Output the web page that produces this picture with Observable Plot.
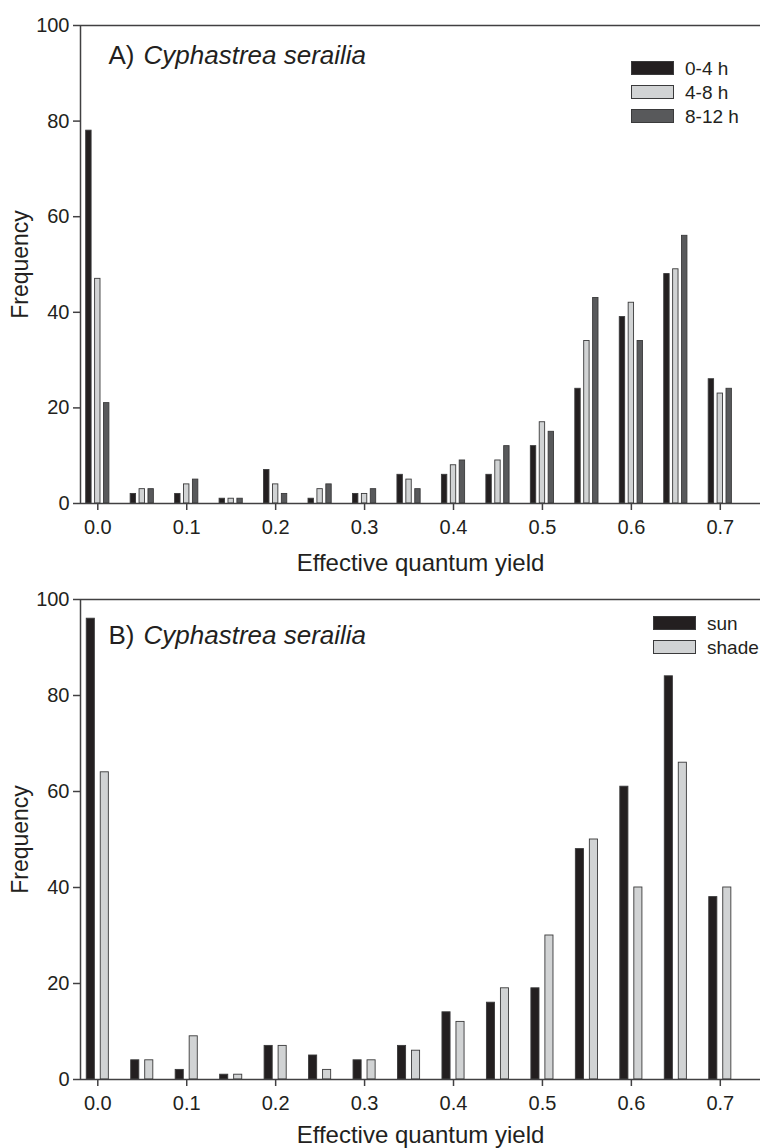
<!DOCTYPE html>
<html>
<head>
<meta charset="utf-8">
<script src="https://cdn.jsdelivr.net/npm/d3@7"></script>
<script src="https://cdn.jsdelivr.net/npm/@observablehq/plot@0.6"></script>
<style>
  html, body { margin: 0; padding: 0; background: #ffffff; }
  #chart { width: 760px; }
  #chart svg { display: block; }
</style>
</head>
<body>
<div id="chart"></div>
<script>
// ---------- data ----------
const bins = [0.00, 0.05, 0.10, 0.15, 0.20, 0.25, 0.30, 0.35, 0.40, 0.45, 0.50, 0.55, 0.60, 0.65, 0.70];
const xTicks = [0.0, 0.1, 0.2, 0.3, 0.4, 0.5, 0.6, 0.7];
const yTicks = [0, 20, 40, 60, 80, 100];

const seriesA = ["0-4 h", "4-8 h", "8-12 h"];
const a0to4  = [78, 2, 2, 1, 7, 1, 2, 6, 6, 6, 12, 24, 39, 48, 26];
const a4to8  = [47, 3, 4, 1, 4, 3, 2, 5, 8, 9, 17, 34, 42, 49, 23];
const a8to12 = [21, 3, 5, 1, 2, 4, 3, 3, 9, 12, 15, 43, 34, 56, 24];

const seriesB = ["sun", "shade"];
const bSun   = [96, 4, 2, 1, 7, 5, 4, 7, 14, 16, 19, 48, 61, 84, 38];
const bShade = [64, 4, 9, 1, 7, 2, 4, 6, 12, 19, 30, 50, 40, 66, 40];

const titleA = ["A)", "Cyphastrea serailia"];
const titleB = ["B)", "Cyphastrea serailia"];
const xLabel = "Effective quantum yield";
const yLabel = "Frequency";

// ---------- styling ----------
const FONT = "'Liberation Sans', Arial, Helvetica, sans-serif";
const TEXT = "#231f20";
const AXIS = "#414042";
const BLACK = "#231f20", LIGHT = "#d1d3d4", DARK = "#58595b";

const WIDTH = 760, LEFT = 80;
const X0 = -0.01945, X1 = 0.74521;           // x scale domain (frame edges)
const unitsPerPx = (X1 - X0) / (WIDTH - LEFT); // to convert bar layout offsets

function panel(o) {
  const n = o.series.length;
  const table = [];
  o.series.forEach((s, i) =>
    o.values[i].forEach((v, j) =>
      table.push({bin: bins[j], series: s, value: v, k: i - (n - 1) / 2})));

  const svg = Plot.plot({
    width: WIDTH,
    height: o.height,
    marginLeft: LEFT,
    marginRight: 0,
    marginTop: o.marginTop,
    marginBottom: o.marginBottom,
    style: {fontFamily: FONT, background: "#ffffff", color: TEXT, overflow: "visible"},
    x: {domain: [X0, X1]},
    y: {domain: [0, 100]},
    color: {domain: o.series, range: o.colors},
    marks: [
      Plot.rectY(table, {
        x1: d => d.bin + (d.k * o.pitch - o.barW / 2) * unitsPerPx,
        x2: d => d.bin + (d.k * o.pitch + o.barW / 2) * unitsPerPx,
        y: "value",
        fill: "series",
        stroke: "#3a3a3b",
        strokeWidth: 0.9
      }),
      Plot.ruleY([0, 100], {stroke: AXIS, strokeWidth: 1.5}),
      Plot.ruleX([X0], {stroke: AXIS, strokeWidth: 1.5}),
      Plot.axisX({ticks: xTicks, tickFormat: d3.format(".1f"), tickSize: 7, tickPadding: 9,
                  fontSize: 20, label: null, stroke: AXIS, strokeWidth: 1.5, fill: TEXT}),
      Plot.axisY({ticks: yTicks, tickSize: 7, tickPadding: 4,
                  fontSize: 20, label: null, stroke: AXIS, strokeWidth: 1.5, fill: TEXT}),
      Plot.text([yLabel], {text: d => d, frameAnchor: "left", dx: -53, rotate: -90,
                  textAnchor: "middle", lineAnchor: "bottom", fontSize: 23, fill: TEXT}),
      Plot.text([xLabel], {text: d => d, frameAnchor: "bottom", dy: o.xLabelDy,
                  textAnchor: "middle", lineAnchor: "bottom", fontSize: 24, fill: TEXT}),
      Plot.text([o.title[0]], {text: d => d, frameAnchor: "top-left", dx: 28, dy: o.titleDy,
                  textAnchor: "start", lineAnchor: "bottom", fontSize: 26, fill: TEXT}),
      Plot.text([o.title[1]], {text: d => d, frameAnchor: "top-left", dx: 63, dy: o.titleDy,
                  textAnchor: "start", lineAnchor: "bottom", fontSize: 26, fontStyle: "italic", fill: TEXT})
    ]
  });

  // legend
  const g = d3.select(svg).append("g").attr("class", "legend");
  o.series.forEach((s, i) => {
    g.append("rect")
      .attr("x", o.legend.x + 0.5).attr("y", o.legend.y + i * 24 + 0.5)
      .attr("width", 42).attr("height", 13)
      .attr("fill", o.colors[i]).attr("stroke", "#3a3a3b").attr("stroke-width", 1);
    g.append("text")
      .attr("x", o.legend.x + 54).attr("y", o.legend.y + 14 + i * 24)
      .attr("text-anchor", "start")
      .attr("font-family", FONT).attr("font-size", 19).attr("fill", TEXT)
      .text(s);
  });
  return svg;
}

const chart = document.getElementById("chart");
chart.appendChild(panel({
  height: 580, marginTop: 25, marginBottom: 77,
  series: seriesA, values: [a0to4, a4to8, a8to12], colors: [BLACK, LIGHT, DARK],
  pitch: 8.9, barW: 5.4, title: titleA, titleDy: 38, xLabelDy: 67,
  legend: {x: 631, y: 61}
}));
chart.appendChild(panel({
  height: 568, marginTop: 19, marginBottom: 69,
  series: seriesB, values: [bSun, bShade], colors: [BLACK, LIGHT],
  pitch: 14, barW: 8.1, title: titleB, titleDy: 44, xLabelDy: 63,
  legend: {x: 653, y: 36}
}));
</script>
</body>
</html>
